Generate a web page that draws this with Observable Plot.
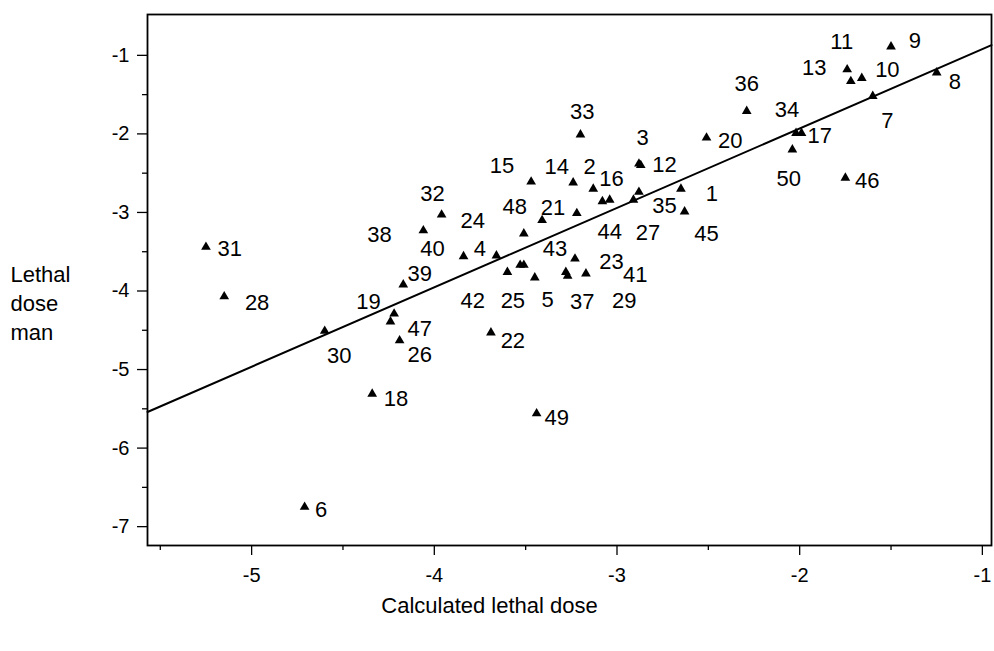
<!DOCTYPE html>
<html><head><meta charset="utf-8">
<script src="https://cdn.jsdelivr.net/npm/d3@7"></script>
<script src="https://cdn.jsdelivr.net/npm/@observablehq/plot@0.6"></script>
<style>body{margin:0;background:#fff} svg{display:block}</style>
</head><body><div id="chart"></div>
<script>
const ids = Array.from({length: 50}, (_, i) => i + 1);
const calcDose = [-2.65,-3.13,-2.88,-3.84,-3.45,-4.71,-1.60,-1.25,-1.50,-1.66,
  -1.74,-2.87,-1.72,-3.24,-3.47,-3.08,-1.99,-4.34,-4.22,-2.51,
  -3.22,-3.69,-3.23,-3.66,-3.53,-4.19,-2.91,-5.15,-3.27,-4.60,
  -5.25,-3.96,-3.20,-2.02,-2.88,-2.29,-3.28,-4.06,-4.17,-3.51,
  -3.17,-3.60,-3.51,-3.04,-2.63,-1.75,-4.24,-3.41,-3.44,-2.04];
const manDose = [-2.70,-2.70,-2.38,-3.56,-3.83,-6.75,-1.52,-1.22,-0.89,-1.29,
  -1.18,-2.40,-1.33,-2.62,-2.61,-2.86,-1.99,-5.31,-4.29,-2.05,
  -3.01,-4.53,-3.59,-3.55,-3.67,-4.63,-2.84,-4.07,-3.81,-4.51,
  -3.44,-3.03,-2.01,-1.99,-2.74,-1.71,-3.76,-3.23,-3.92,-3.27,
  -3.78,-3.76,-3.67,-2.84,-2.99,-2.56,-4.39,-3.10,-5.56,-2.20];
// where each case number is printed (data units)
const labelX = [-2.48,-3.15,-2.86,-3.75,-3.38,-4.62,-1.52,-1.15,-1.37,-1.52,
  -1.77,-2.74,-1.92,-3.33,-3.63,-3.03,-1.89,-4.21,-4.36,-2.38,
  -3.35,-3.57,-3.03,-3.79,-3.57,-4.08,-2.83,-4.97,-2.96,-4.52,
  -5.12,-4.01,-3.19,-2.07,-2.74,-2.29,-3.19,-4.30,-4.08,-4.01,
  -2.90,-3.79,-3.34,-3.04,-2.51,-1.63,-4.08,-3.56,-3.33,-2.06];
const labelY = [-2.76,-2.42,-2.05,-3.47,-4.12,-6.79,-1.83,-1.34,-0.82,-1.18,
  -0.83,-2.39,-1.16,-2.42,-2.41,-2.57,-2.03,-5.37,-4.14,-2.09,
  -2.94,-4.64,-3.63,-3.11,-4.13,-4.82,-3.26,-4.15,-4.13,-4.83,
  -3.46,-2.77,-1.72,-1.69,-2.92,-1.37,-4.14,-3.29,-3.78,-3.46,
  -3.80,-4.13,-3.47,-3.25,-3.27,-2.60,-4.48,-2.93,-5.62,-2.57];
// fitted line, read at the frame edges
const fitX = [-5.57, -0.95];
const fitY = [-5.54, -0.87];
const xTicks = [-5, -4, -3, -2, -1];
const xMinorTicks = [-5.5, -4.5, -3.5, -2.5, -1.5];
const yTicks = [-1, -2, -3, -4, -5, -6, -7];
const yMinorTicks = [-1.5, -2.5, -3.5, -4.5, -5.5, -6.5];
const xTitle = "Calculated lethal dose";
const yTitle = "Lethal\ndose\nman";

const points = ids.map((id, i) => ({id, calc: calcDose[i], man: manDose[i], lx: labelX[i], ly: labelY[i]}));
const fit = fitX.map((x, i) => ({calc: x, man: fitY[i]}));

const chart = Plot.plot({
  width: 994, height: 651,
  marginLeft: 147, marginRight: 3, marginTop: 14, marginBottom: 106,
  style: {fontFamily: "'Liberation Sans', Arial, sans-serif", background: "white", color: "black"},
  x: {domain: [-5.57, -0.95]},
  y: {domain: [-7.24, -0.48]},
  marks: [
    Plot.frame({stroke: "black", strokeWidth: 1.8}),
    Plot.axisX({ticks: xMinorTicks, tickSize: 5, text: null, label: null, strokeWidth: 1.3}),
    Plot.axisX({ticks: xTicks, tickSize: 10, tickPadding: 12, fontSize: 20, tickFormat: d => String(d), label: null, strokeWidth: 1.3}),
    Plot.axisY({ticks: yMinorTicks, tickSize: 5, text: null, label: null, strokeWidth: 1.3}),
    Plot.axisY({ticks: yTicks, tickSize: 10, tickPadding: 8, fontSize: 20, tickFormat: d => String(d), label: null, strokeWidth: 1.3}),
    Plot.line(fit, {x: "calc", y: "man", stroke: "black", strokeWidth: 2}),
    Plot.dot(points, {x: "calc", y: "man", symbol: "triangle", r: 3.6, fill: "black", stroke: "none"}),
    Plot.text(points, {x: "lx", y: "ly", text: d => String(d.id), fontSize: 22, fill: "black"}),
    Plot.text([yTitle], {text: d => d, frameAnchor: "left", dx: -137, dy: 22, textAnchor: "start", fontSize: 22, lineHeight: 1.32, fill: "black"}),
    Plot.text([xTitle], {text: d => d, frameAnchor: "bottom", dx: -80, dy: 67, fontSize: 22, fill: "black"})
  ]
});
document.getElementById("chart").appendChild(chart);
</script>
</body></html>
